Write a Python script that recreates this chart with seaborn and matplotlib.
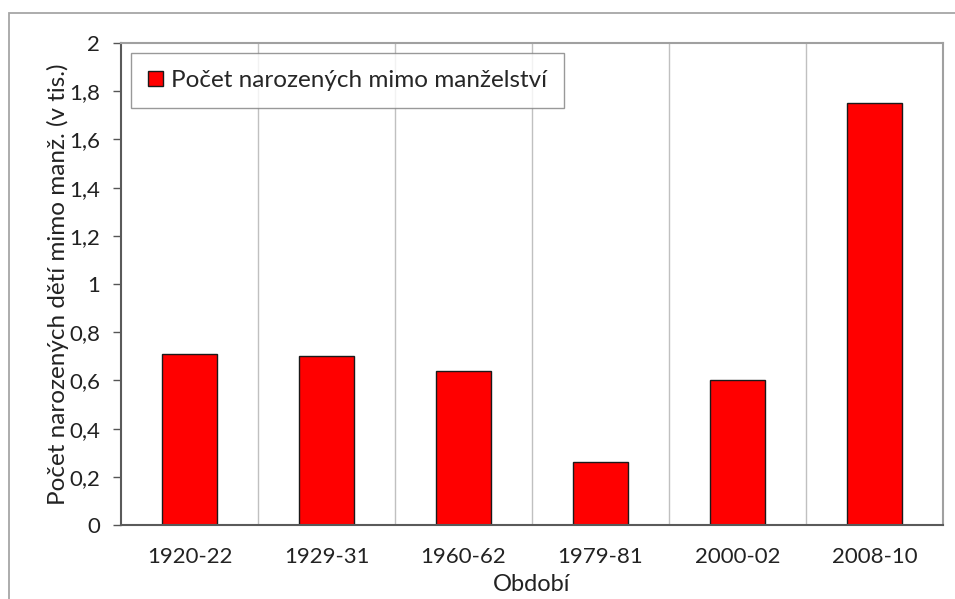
import pandas as pd
import seaborn as sns
import matplotlib.pyplot as plt
from matplotlib.patches import Rectangle

# Data
obdobi = ['1920-22', '1929-31', '1960-62', '1979-81', '2000-02', '2008-10']
pocet_tis = [0.71, 0.70, 0.64, 0.26, 0.60, 1.75]
y_ticks = [0, 0.2, 0.4, 0.6, 0.8, 1, 1.2, 1.4, 1.6, 1.8, 2]
y_tick_labels = ['0', '0,2', '0,4', '0,6', '0,8', '1', '1,2', '1,4', '1,6', '1,8', '2']
serie = 'Počet narozených mimo manželství'

df = pd.DataFrame({'obdobi': obdobi, 'pocet': pocet_tis, 'serie': serie})

sns.set_style('white')
plt.rcParams['font.family'] = ['Lato', 'DejaVu Sans']

fig = plt.figure(figsize=(9.55, 5.99), dpi=100)
ax = fig.add_axes([121 / 955, 1 - 525 / 599, (943 - 121) / 955, (525 - 43) / 599])

# rámeček kolem celého grafu (jen horní a levá hrana viditelná)
fig.patches.append(Rectangle((9 / 955, -0.05), 1.2, 1 - 13 / 599 + 0.05,
                             transform=fig.transFigure, fill=False,
                             edgecolor='#a6a6a6', linewidth=1.3))

sns.barplot(data=df, x='obdobi', y='pocet', hue='serie', palette=['#ff0000'],
            saturation=1, width=0.4, edgecolor='#1a1a1a', linewidth=1.0,
            ax=ax, legend=True)

ax.set_xlim(-0.5, len(obdobi) - 0.5)
ax.set_ylim(0, 2)
ax.set_yticks(y_ticks)
ax.set_yticklabels(y_tick_labels)

# svislé mřížky na hranicích kategorií
for k in range(1, len(obdobi)):
    ax.axvline(k - 0.5, color='#c0c0c0', linewidth=1.0, zorder=0)
ax.set_xticks([k - 0.5 for k in range(len(obdobi) + 1)], minor=True)
ax.tick_params(axis='x', which='major', length=0, pad=16, labelsize=16, colors='#222222')
ax.tick_params(axis='x', which='minor', length=6, width=1, color='#555555', direction='out')
ax.tick_params(axis='y', length=6, width=1, color='#555555', direction='out',
               labelsize=16, colors='#222222', pad=9, left=True)

for side in ['left', 'bottom']:
    ax.spines[side].set_color('#5a5a5a')
    ax.spines[side].set_linewidth(1.5)
for side in ['top', 'right']:
    ax.spines[side].set_color('#a0a0a0')
    ax.spines[side].set_linewidth(1.5)

ax.set_xlabel('Období', fontsize=17, color='#222222', labelpad=5)
ax.set_ylabel('Počet narozených dětí mimo manž. (v tis.)', fontsize=17.5,
              color='#222222', labelpad=0)

leg = ax.legend(loc='upper left', bbox_to_anchor=(10 / 822, 1 - 10 / 482), frameon=True,
                fancybox=False, edgecolor='#808080', fontsize=17.5, handlelength=0.6,
                handleheight=0.6, borderpad=0.7, handletextpad=0.35,
                borderaxespad=0)
leg.get_frame().set_linewidth(1.0)
for h in leg.legend_handles:
    h.set_edgecolor('#1a1a1a')

fig.savefig('out.png', dpi=100)
